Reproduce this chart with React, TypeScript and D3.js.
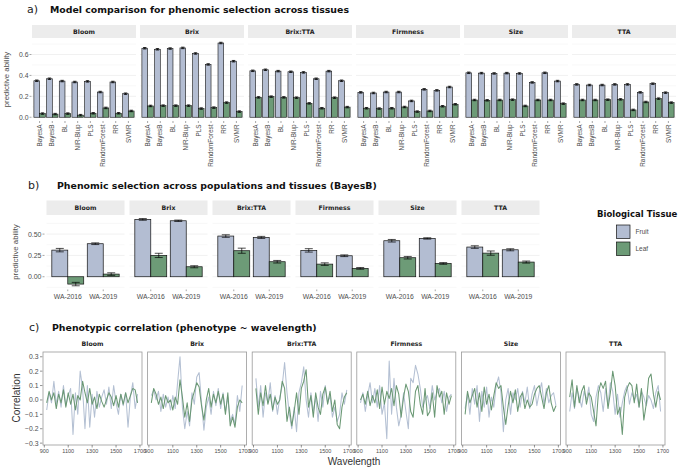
import React from "react";
import * as d3 from "d3";

const traits = ["Bloom", "Brix", "Brix:TTA", "Firmness", "Size", "TTA"];
const models = ["BayesA", "BayesB", "BL", "NIR-Blup", "PLS", "RandomForest", "RR", "SVMR"];
const tissues = ["Fruit", "Leaf"];
const years = ["WA-2016", "WA-2019"];

// panel a: predictive ability per model
const aFruitBloom = [0.349, 0.368, 0.346, 0.337, 0.343, 0.241, 0.337, 0.225];
const aLeafBloom = [0.035, 0.03, 0.035, 0.02, 0.038, 0.089, 0.038, 0.06];
const aFruitBrix = [0.66, 0.65, 0.657, 0.663, 0.61, 0.505, 0.71, 0.536];
const aLeafBrix = [0.108, 0.111, 0.111, 0.111, 0.083, 0.092, 0.14, 0.054];
const aFruitBrixTTA = [0.444, 0.454, 0.441, 0.435, 0.429, 0.368, 0.441, 0.349];
const aLeafBrixTTA = [0.19, 0.197, 0.19, 0.187, 0.133, 0.086, 0.187, 0.097];
const aFruitFirmness = [0.238, 0.232, 0.241, 0.241, 0.156, 0.267, 0.257, 0.289];
const aLeafFirmness = [0.086, 0.083, 0.086, 0.098, 0.054, 0.06, 0.105, 0.124];
const aFruitSize = [0.425, 0.422, 0.419, 0.422, 0.419, 0.333, 0.425, 0.346];
const aLeafSize = [0.165, 0.162, 0.165, 0.168, 0.108, 0.165, 0.165, 0.13];
const aFruitTTA = [0.314, 0.308, 0.308, 0.314, 0.314, 0.238, 0.321, 0.235];
const aLeafTTA = [0.165, 0.165, 0.168, 0.171, 0.07, 0.146, 0.178, 0.14];
const aErr = 0.007;

// panel b: BayesB across populations (order of traits)
const bFruit2016 = [0.312, 0.672, 0.477, 0.309, 0.422, 0.348];
const bLeaf2016 = [-0.086, 0.25, 0.305, 0.148, 0.223, 0.277];
const bFruit2019 = [0.387, 0.656, 0.461, 0.246, 0.449, 0.316];
const bLeaf2019 = [0.031, 0.117, 0.176, 0.098, 0.156, 0.172];
const bFruitErr2016 = [0.02, 0.01, 0.015, 0.02, 0.015, 0.015];
const bLeafErr2016 = [0.02, 0.025, 0.03, 0.015, 0.015, 0.025];
const bFruitErr2019 = [0.01, 0.008, 0.012, 0.01, 0.008, 0.012];
const bLeafErr2019 = [0.015, 0.012, 0.015, 0.01, 0.01, 0.012];

// panel c: correlation vs wavelength
const wavelengths = [920, 940, 960, 980, 1000, 1020, 1040, 1060, 1080, 1100, 1120, 1140, 1160, 1180, 1200, 1220, 1240, 1260, 1280, 1300, 1320, 1340, 1360, 1380, 1400, 1420, 1440, 1460, 1480, 1500, 1520, 1540, 1560, 1580, 1600, 1620, 1640, 1660, 1680];
const cFruitBloom = [-0.07, 0.05, -0.02, 0.13, -0.03, 0.06, -0.05, 0.1, -0.04, 0.03, 0.08, -0.24, 0.05, -0.1, 0.2, 0.08, -0.2, 0.1, -0.19, 0.04, -0.12, 0.06, -0.05, 0.02, 0.07, -0.03, 0.09, -0.06, 0.1, -0.02, -0.1, 0.04, -0.04, 0.05, -0.19, 0.02, 0.12, -0.06, 0.04];
const cLeafBloom = [-0.02, 0.06, 0.0, 0.05, -0.06, 0.04, -0.02, 0.07, -0.05, 0.05, -0.03, 0.04, -0.07, 0.03, 0.0, 0.13, 0.05, -0.02, 0.08, -0.03, 0.02, -0.06, 0.04, -0.01, -0.05, 0.0, 0.05, 0.02, -0.04, 0.03, -0.05, 0.04, -0.03, 0.05, -0.02, 0.03, 0.08, 0.07, -0.02];
const cFruitBrix = [0.03, 0.07, 0.0, 0.06, -0.08, 0.04, -0.05, 0.02, -0.07, 0.03, -0.06, 0.12, 0.3, -0.05, -0.2, -0.08, -0.18, 0.05, -0.03, 0.16, 0.19, -0.02, -0.21, -0.05, 0.02, -0.1, 0.06, -0.04, 0.08, -0.06, 0.05, -0.08, 0.02, -0.15, -0.1, -0.17, 0.03, -0.08, 0.1];
const cLeafBrix = [-0.02, 0.08, 0.04, -0.03, 0.02, -0.06, 0.03, -0.02, 0.0, -0.07, 0.02, -0.03, 0.14, 0.02, -0.12, -0.02, -0.15, 0.0, 0.06, 0.12, 0.09, -0.04, -0.14, 0.0, 0.08, -0.05, 0.04, -0.02, 0.06, -0.03, 0.04, -0.1, 0.05, -0.18, -0.12, -0.19, -0.05, 0.0, -0.02];
const cFruitBrixTTA = [0.15, -0.05, 0.1, -0.12, 0.05, -0.02, 0.12, -0.08, 0.03, -0.1, 0.02, 0.1, 0.26, 0.05, -0.1, -0.2, -0.05, -0.22, 0.05, 0.12, 0.23, 0.0, -0.12, 0.05, -0.08, 0.02, -0.15, 0.06, -0.05, 0.1, -0.02, 0.03, -0.12, -0.05, -0.15, -0.1, 0.05, -0.03, 0.07];
const cLeafBrixTTA = [0.08, -0.1, 0.05, -0.04, 0.1, -0.03, 0.04, -0.07, 0.02, -0.03, 0.0, 0.13, 0.08, -0.15, -0.05, -0.18, -0.08, 0.05, -0.1, 0.08, 0.13, 0.21, -0.05, 0.03, -0.12, 0.05, -0.05, -0.1, 0.04, 0.09, -0.03, 0.06, -0.08, 0.0, -0.17, -0.2, -0.05, 0.02, 0.05];
const cFruitFirmness = [-0.02, 0.05, -0.08, 0.03, 0.12, -0.02, 0.08, -0.05, 0.1, -0.1, -0.02, -0.27, 0.27, -0.1, 0.15, -0.05, -0.18, -0.1, 0.05, -0.08, -0.2, 0.15, 0.12, 0.24, 0.18, 0.08, -0.05, 0.0, 0.03, -0.06, 0.1, 0.0, 0.05, 0.08, -0.02, 0.06, -0.08, 0.02, 0.04];
const cLeafFirmness = [0.0, 0.04, -0.03, 0.06, -0.04, 0.03, -0.02, 0.07, -0.06, 0.09, -0.03, 0.06, 0.01, 0.08, -0.04, 0.1, 0.04, -0.12, 0.02, 0.11, 0.06, -0.08, -0.12, 0.06, 0.1, -0.03, -0.1, 0.08, -0.11, -0.08, 0.05, -0.12, 0.1, 0.02, 0.06, -0.1, 0.05, -0.03, 0.03];
const cFruitSize = [-0.06, 0.04, -0.1, 0.08, -0.03, 0.1, -0.15, 0.06, -0.05, 0.09, -0.12, 0.02, -0.05, 0.1, 0.16, 0.05, -0.22, 0.0, 0.08, -0.1, 0.05, 0.0, 0.08, -0.05, 0.06, -0.02, 0.09, -0.06, 0.04, 0.1, -0.04, 0.05, 0.12, -0.03, 0.08, -0.02, 0.03, 0.05, -0.04];
const cLeafSize = [-0.1, 0.06, -0.02, 0.03, 0.08, -0.05, 0.05, -0.08, 0.09, -0.03, 0.04, -0.07, 0.03, 0.12, 0.08, 0.1, -0.05, -0.17, -0.04, 0.06, -0.02, 0.07, -0.08, 0.02, 0.05, -0.06, 0.0, -0.05, -0.03, 0.04, 0.08, 0.1, 0.02, -0.06, 0.05, 0.1, -0.02, -0.08, -0.04];
const cFruitTTA = [-0.08, 0.05, -0.06, 0.08, 0.02, -0.05, 0.06, 0.0, 0.09, -0.1, -0.15, 0.02, 0.1, 0.05, -0.08, 0.08, -0.04, 0.12, 0.06, -0.1, 0.04, -0.12, -0.02, 0.06, 0.1, -0.03, 0.05, 0.0, 0.04, -0.05, 0.06, 0.02, -0.04, 0.03, 0.0, -0.06, 0.05, 0.1, -0.08];
const cLeafTTA = [0.02, 0.14, -0.05, 0.1, -0.02, 0.06, 0.1, -0.03, 0.05, 0.02, -0.08, -0.18, 0.05, 0.12, 0.08, 0.13, -0.06, 0.05, 0.2, 0.1, -0.1, -0.05, -0.24, 0.02, 0.08, 0.12, 0.1, -0.02, 0.11, -0.05, 0.08, -0.14, -0.03, 0.15, 0.18, 0.04, -0.05, 0.06, 0.0];

const aTicks = [0, 0.2, 0.4, 0.6];
const aMinor = [0.1, 0.3, 0.5, 0.7];
const bTicks = [0, 0.25, 0.5];
const bTickLabels = ["0.00", "0.25", "0.50"];
const bMinor = [-0.125, 0.125, 0.375, 0.625];
const cYTicks = [-0.3, -0.2, -0.1, 0, 0.1, 0.2, 0.3];
const cXTicks = [900, 1100, 1300, 1500, 1700];

const FRUIT = "#b3bdd2";
const LEAF = "#6d9b77";
const FRUIT_LINE = "#b4c0d3";
const LEAF_LINE = "#6a9874";
const GRID = "#ebebeb";
const STRIP = "#ececec";
const AXT = "#4d4d4d";
const FONT = "'DejaVu Sans', Verdana, sans-serif";
const SANS = "'Liberation Sans', Arial, sans-serif";

export default function App() {
  const aFruit = [aFruitBloom, aFruitBrix, aFruitBrixTTA, aFruitFirmness, aFruitSize, aFruitTTA];
  const aLeaf = [aLeafBloom, aLeafBrix, aLeafBrixTTA, aLeafFirmness, aLeafSize, aLeafTTA];

  const aX0 = 32, aW = 104, aGap = 4;
  const ya = d3.scaleLinear().domain([-0.036, 0.755]).range([121, 38.3]);
  const bX0 = 46.5, bW = 78, bGap = 5;
  const yb = d3.scaleLinear().domain([-0.139, 0.719]).range([288.6, 215.4]);
  const cX0 = 43, cW = 99, cStep = 104.6;
  const yc = d3.scaleLinear().domain([-0.313, 0.333]).range([445, 352]);

  const cFruit = [cFruitBloom, cFruitBrix, cFruitBrixTTA, cFruitFirmness, cFruitSize, cFruitTTA];
  const cLeaf = [cLeafBloom, cLeafBrix, cLeafBrixTTA, cLeafFirmness, cLeafSize, cLeafTTA];

  const bSeries = [
    { year: 0, tissue: 0, vals: bFruit2016, err: bFruitErr2016 },
    { year: 0, tissue: 1, vals: bLeaf2016, err: bLeafErr2016 },
    { year: 1, tissue: 0, vals: bFruit2019, err: bFruitErr2019 },
    { year: 1, tissue: 1, vals: bLeaf2019, err: bLeafErr2019 },
  ];

  return (
    <svg width={680} height={468} style={{ position: "absolute", left: 0, top: 0, background: "#fff" }} fontFamily={FONT}>
      <rect width={680} height={468} fill="#fff" />
      {/* ---------- Panel a ---------- */}
      <text x={27} y={13} fontSize={11} fill="#222">a)</text>
      <text x={50} y={13} fontSize={9.4} fontWeight="bold" fill="#111">Model comparison for phenomic selection across tissues</text>
      <text transform={`translate(9,${(38 + 121) / 2}) rotate(-90)`} textAnchor="middle" fontSize={7.8} fill={AXT} fontFamily={SANS}>predictive ability</text>
      {aTicks.map((t) => (
        <g key={"aty" + t}>
          <text x={28.5} y={ya(t) + 2.4} textAnchor="end" fontSize={6.8} fill={AXT} fontFamily={SANS}>{t.toFixed(1)}</text>
          <line x1={29.5} x2={31.5} y1={ya(t)} y2={ya(t)} stroke={AXT} strokeWidth={0.5} />
        </g>
      ))}
      {traits.map((tr, i) => {
        const px0 = aX0 + i * (aW + aGap);
        const xs = d3.scaleLinear().domain([-0.6, models.length - 1 + 0.6]).range([px0, px0 + aW]);
        const hw = xs(0.45) - xs(0);
        return (
          <g key={"a" + tr}>
            <rect x={px0} y={25} width={aW} height={13} fill={STRIP} />
            <text x={px0 + aW / 2} y={33.8} textAnchor="middle" fontSize={6.2} fontWeight="bold" fill="#222">{tr}</text>
            {aMinor.map((t) => (
              <line key={"m" + t} x1={px0} x2={px0 + aW} y1={ya(t)} y2={ya(t)} stroke={GRID} strokeWidth={0.35} />
            ))}
            {aTicks.map((t) => (
              <line key={"M" + t} x1={px0} x2={px0 + aW} y1={ya(t)} y2={ya(t)} stroke={GRID} strokeWidth={0.7} />
            ))}
            {models.map((m, j) => {
              const vals = [aFruit[i][j], aLeaf[i][j]];
              return (
                <g key={m}>
                  {vals.map((v, k) => {
                    const x = xs(j) - hw + k * hw;
                    const cx = x + hw / 2;
                    return (
                      <g key={k}>
                        <rect x={x} y={ya(Math.max(v, 0))} width={hw} height={Math.abs(ya(v) - ya(0))} fill={k === 0 ? FRUIT : LEAF} stroke="#111" strokeWidth={0.6} />
                        <line x1={cx} x2={cx} y1={ya(v - aErr)} y2={ya(v + aErr)} stroke="#000" strokeWidth={0.8} />
                        <line x1={cx - hw * 0.3} x2={cx + hw * 0.3} y1={ya(v + aErr)} y2={ya(v + aErr)} stroke="#000" strokeWidth={0.8} />
                        <line x1={cx - hw * 0.3} x2={cx + hw * 0.3} y1={ya(v - aErr)} y2={ya(v - aErr)} stroke="#000" strokeWidth={0.8} />
                      </g>
                    );
                  })}
                  <line x1={xs(j)} x2={xs(j)} y1={121} y2={123} stroke={AXT} strokeWidth={0.5} />
                  <text transform={`translate(${xs(j) + 2.2},124.5) rotate(-90)`} textAnchor="end" fontSize={6.4} fill={AXT} fontFamily={SANS}>{m}</text>
                </g>
              );
            })}
          </g>
        );
      })}

      {/* ---------- Panel b ---------- */}
      <text x={28} y={189} fontSize={11} fill="#222">b)</text>
      <text x={57} y={189} fontSize={9.4} fontWeight="bold" fill="#111">Phenomic selection across populations and tissues (BayesB)</text>
      <text transform={`translate(18,${(215 + 289) / 2}) rotate(-90)`} textAnchor="middle" fontSize={7.8} fill={AXT} fontFamily={SANS}>predictive ability</text>
      {bTicks.map((t, k) => (
        <g key={"bty" + t}>
          <text x={41.5} y={yb(t) + 2.5} textAnchor="end" fontSize={7} fill={AXT} fontFamily={SANS}>{bTickLabels[k]}</text>
          <line x1={42.5} x2={44.5} y1={yb(t)} y2={yb(t)} stroke={AXT} strokeWidth={0.5} />
        </g>
      ))}
      {traits.map((tr, i) => {
        const px0 = bX0 + i * (bW + bGap);
        const xs = d3.scaleLinear().domain([-0.6, years.length - 1 + 0.6]).range([px0, px0 + bW]);
        const hw = xs(0.45) - xs(0);
        return (
          <g key={"b" + tr}>
            <rect x={px0} y={200.5} width={bW} height={14.5} fill={STRIP} />
            <text x={px0 + bW / 2} y={210.2} textAnchor="middle" fontSize={6.2} fontWeight="bold" fill="#222">{tr}</text>
            {bMinor.map((t) => (
              <line key={"m" + t} x1={px0} x2={px0 + bW} y1={yb(t)} y2={yb(t)} stroke={GRID} strokeWidth={0.35} />
            ))}
            {bTicks.map((t) => (
              <line key={"M" + t} x1={px0} x2={px0 + bW} y1={yb(t)} y2={yb(t)} stroke={GRID} strokeWidth={0.7} />
            ))}
            {bSeries.map((s, si) => {
              const v = s.vals[i];
              const e = s.err[i];
              const x = xs(s.year) - hw + s.tissue * hw;
              const cx = x + hw / 2;
              return (
                <g key={si}>
                  <rect x={x} y={yb(Math.max(v, 0))} width={hw} height={Math.abs(yb(v) - yb(0))} fill={s.tissue === 0 ? FRUIT : LEAF} stroke="#111" strokeWidth={0.7} />
                  <line x1={cx} x2={cx} y1={yb(v - e)} y2={yb(v + e)} stroke="#000" strokeWidth={0.7} />
                  <line x1={cx - hw * 0.25} x2={cx + hw * 0.25} y1={yb(v + e)} y2={yb(v + e)} stroke="#000" strokeWidth={0.7} />
                  <line x1={cx - hw * 0.25} x2={cx + hw * 0.25} y1={yb(v - e)} y2={yb(v - e)} stroke="#000" strokeWidth={0.7} />
                </g>
              );
            })}
            {years.map((yr, j) => (
              <g key={yr}>
                <line x1={xs(j)} x2={xs(j)} y1={289.5} y2={291.2} stroke={AXT} strokeWidth={0.5} />
                <text x={xs(j)} y={298.8} textAnchor="middle" fontSize={6.8} fill={AXT} fontFamily={SANS}>{yr}</text>
              </g>
            ))}
          </g>
        );
      })}
      {/* legend */}
      <text x={597} y={217} fontSize={8.5} fontWeight="bold" fill="#111">Biological Tissue</text>
      {tissues.map((t, k) => (
        <g key={t}>
          <rect x={616.5} y={225 + k * 17} width={13.5} height={13.5} fill={k === 0 ? FRUIT : LEAF} stroke="#111" strokeWidth={0.7} />
          <text x={635.5} y={234 + k * 17} fontSize={6.5} fill={AXT} fontFamily={SANS}>{t}</text>
        </g>
      ))}

      {/* ---------- Panel c ---------- */}
      <text x={29} y={331} fontSize={11} fill="#222">c)</text>
      <text x={52} y={331} fontSize={9.4} fontWeight="bold" fill="#111">Phenotypic correlation (phenotype ~ wavelength)</text>
      <text transform={`translate(20,398) rotate(-90)`} textAnchor="middle" fontSize={10} fill="#333" fontFamily={SANS}>Correlation</text>
      <text x={354} y={465} textAnchor="middle" fontSize={10} fill="#333" fontFamily={SANS}>Wavelength</text>
      {cYTicks.map((t) => (
        <g key={"cty" + t}>
          <text x={38.5} y={yc(t) + 2.4} textAnchor="end" fontSize={6.8} fill={AXT} fontFamily={SANS}>{t === 0 ? "0.0" : t < 0 ? "\u2212" + Math.abs(t).toFixed(1) : t.toFixed(1)}</text>
          <line x1={40} x2={42.5} y1={yc(t)} y2={yc(t)} stroke={AXT} strokeWidth={0.6} />
        </g>
      ))}
      {traits.map((tr, i) => {
        const px0 = cX0 + i * cStep;
        const xc = d3.scaleLinear().domain([889, 1717]).range([px0, px0 + cW]);
        const line = d3
          .line<number>()
          .x((_, k) => xc(wavelengths[k]))
          .y((d) => yc(d));
        return (
          <g key={"c" + tr}>
            <text x={px0 + cW / 2} y={346} textAnchor="middle" fontSize={6.2} fontWeight="bold" fill="#222">{tr}</text>
            <path d={line(cFruit[i]) || ""} fill="none" stroke={FRUIT_LINE} strokeWidth={1.05} strokeLinejoin="round" />
            <path d={line(cLeaf[i]) || ""} fill="none" stroke={LEAF_LINE} strokeWidth={1.05} strokeLinejoin="round" />
            <rect x={px0} y={352} width={cW} height={93} fill="none" stroke="#999" strokeWidth={0.8} />
            {cXTicks.map((t) => (
              <g key={t}>
                <line x1={xc(t)} x2={xc(t)} y1={445} y2={447.5} stroke={AXT} strokeWidth={0.6} />
                <text x={xc(t)} y={453} textAnchor="middle" fontSize={5.5} fill={AXT} fontFamily={SANS}>{t}</text>
              </g>
            ))}
          </g>
        );
      })}
    </svg>
  );
}
